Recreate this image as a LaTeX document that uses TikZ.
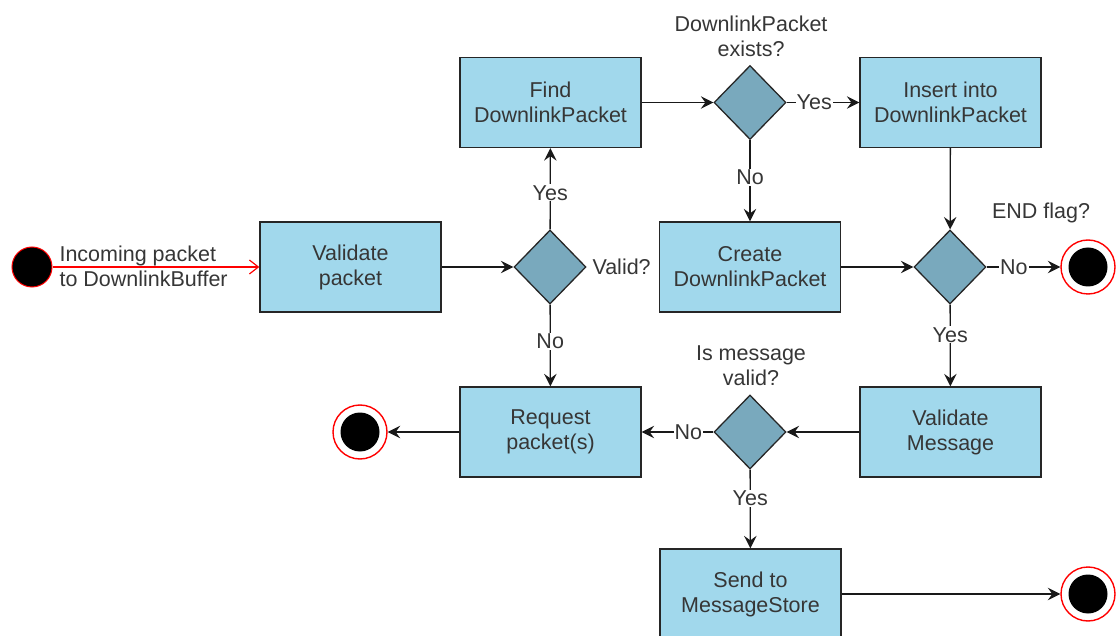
\documentclass[tikz,border=0pt]{standalone}
\usepackage{fontspec}
\setmainfont{Liberation Sans}
\usetikzlibrary{shapes.geometric,arrows.meta}
\definecolor{boxblue}{HTML}{A1D8EC}
\definecolor{decblue}{HTML}{79A9BD}
\definecolor{txt}{HTML}{363636}
\begin{document}
\begin{tikzpicture}[x=1pt,y=-1pt,
  font=\fontsize{21.5}{25}\selectfont,
  every node/.style={text=txt},
  stepbox/.style={rectangle,draw=black!85,line width=1.3pt,fill=boxblue,
    minimum width=181pt,minimum height=90pt,inner sep=0pt,align=center},
  decision/.style={diamond,draw=black!85,line width=1.3pt,fill=decblue,
    minimum width=72pt,minimum height=74pt,inner sep=0pt},
  startnode/.style={circle,fill=black,draw=red,line width=1pt,
    minimum size=40pt,inner sep=0pt},
  endnode/.style={circle,draw=red,line width=1.4pt,fill=white,
    minimum size=54pt,inner sep=0pt,
    path picture={\fill[black] (path picture bounding box.center) circle (19.5pt);}},
  flow/.style={draw=black!90,line width=1.3pt,-{Stealth[length=12.5pt,width=12.5pt,inset=4.5pt]}},
  lbl/.style={fill=white,inner sep=1pt},
  note/.style={align=center}]
\useasboundingbox (0,0) rectangle (1117,636);

% nodes
\node[startnode] (start) at (32,267) {};
\node[stepbox] (valp) at (350.5,267) {Validate\\packet};
\node[decision] (dvalid) at (550,267) {};
\node[stepbox] (find) at (550.5,102.5) {Find\\DownlinkPacket};
\node[decision] (dexists) at (750,102.5) {};
\node[stepbox] (insert) at (950.5,102.5) {Insert into\\DownlinkPacket};
\node[stepbox] (create) at (750,267) {Create\\DownlinkPacket};
\node[decision] (dend) at (950,267) {};
\node[endnode] (end1) at (1088,267) {};
\node[stepbox] (request) at (550.5,432) {Request\\packet(s)};
\node[endnode] (end2) at (360,432) {};
\node[decision] (dmsg) at (750,432) {};
\node[stepbox] (valm) at (950.5,432) {Validate\\Message};
\node[stepbox] (send) at (750.5,594) {Send to\\MessageStore};
\node[endnode] (end3) at (1088,594) {};

% captions beside decisions
\node[anchor=west] (cvalid) at (589,267) {Valid?};
\node[note] (cexists) at (751,36) {DownlinkPacket\\exists?};
\node (cend) at (1041,213) {END flag?};
\node[note] (cmsg) at (751,366) {Is message\\valid?};

% incoming arrow
\draw[red,line width=1.2pt,-{Straight Barb[length=9pt,width=14pt]}] (start) -- (valp);
\node[anchor=west,align=left] (cin) at (56,266) {Incoming packet\\to DownlinkBuffer};

% connectors
\draw[flow] (valp) -- (dvalid);
\draw[flow] (dvalid) -- node[lbl,pos=0.45] {Yes} (find);
\draw[flow] (dvalid) -- node[lbl,pos=0.45] {No} (request);
\draw[flow] (find) -- (dexists);
\draw[flow] (dexists) -- node[lbl,pos=0.38] {Yes} (insert);
\draw[flow] (dexists) -- node[lbl,pos=0.46] {No} (create);
\draw[flow] (insert) -- (dend);
\draw[flow] (create) -- (dend);
\draw[flow] (dend) -- node[lbl,pos=0.37] {No} (end1);
\draw[flow] (dend) -- node[lbl,pos=0.37] {Yes} (valm);
\draw[flow] (valm) -- (dmsg);
\draw[flow] (dmsg) -- node[lbl,pos=0.35] {No} (request);
\draw[flow] (dmsg) -- node[lbl,pos=0.37] {Yes} (send);
\draw[flow] (request) -- (end2);
\draw[flow] (send) -- (end3);
\end{tikzpicture}
\end{document}
